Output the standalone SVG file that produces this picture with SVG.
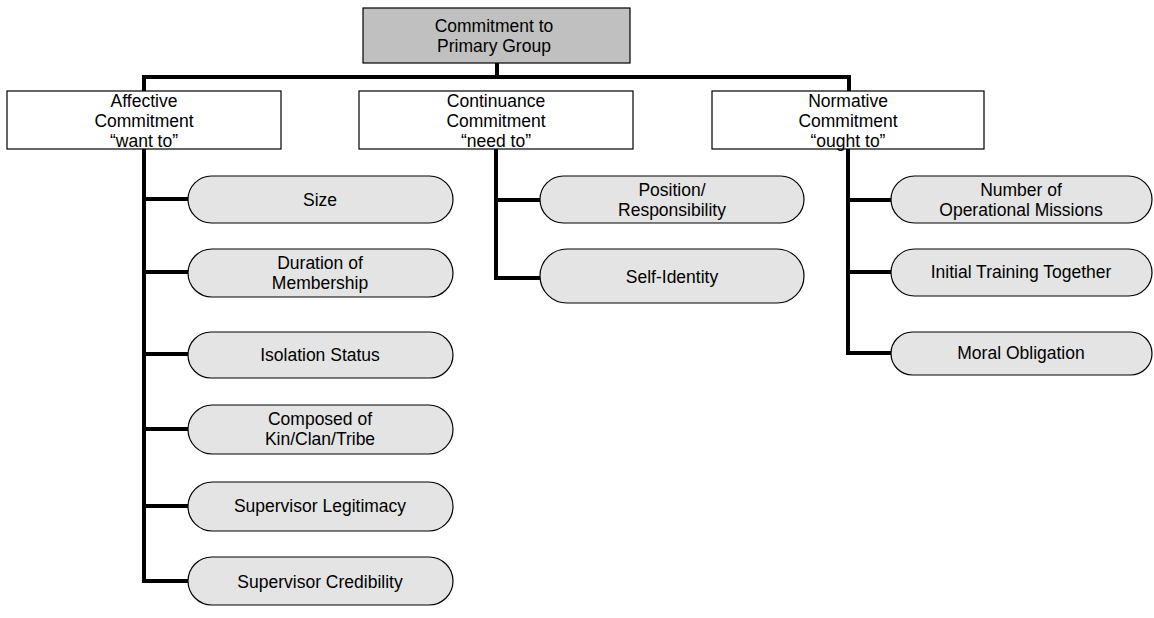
<svg xmlns="http://www.w3.org/2000/svg" width="1154" height="618" viewBox="0 0 1154 618">
<style>
.t{font-family:"Liberation Sans",Arial,sans-serif;font-size:17.5px;fill:#000;text-anchor:middle}
.box{fill:#fff;stroke:#000;stroke-width:1.2}
.top{fill:#c0c0c0;stroke:#000;stroke-width:1.2}
.pill{fill:#e4e4e4;stroke:#000;stroke-width:1.2}
.c{fill:none;stroke:#000;stroke-width:4;stroke-linejoin:miter;stroke-linecap:butt}
</style>
<rect width="1154" height="618" fill="#fff"/>
<g id="connectors">
<path class="c" d="M497 63V77M144 91V77H849V91"/>
<path class="c" d="M144 149V581H188M144 199H188M144 272H188M144 354H188M144 429H188M144 506H188"/>
<path class="c" d="M496 149V278H540M496 200H540"/>
<path class="c" d="M848 149V353H891M848 200H891M848 272H891"/>
</g>
<g id="root"><rect class="top" x="363" y="8" width="267" height="55"/><text class="t" x="494" y="32">Commitment to</text><text class="t" x="494" y="52">Primary Group</text></g>
<g id="affective"><rect class="box" x="7" y="91" width="274" height="58"/><text class="t" x="144" y="107">Affective</text><text class="t" x="144" y="127">Commitment</text><text class="t" x="144" y="147">“want to”</text></g>
<g id="continuance"><rect class="box" x="359" y="91" width="274" height="58"/><text class="t" x="496" y="107">Continuance</text><text class="t" x="496" y="127">Commitment</text><text class="t" x="496" y="147">“need to”</text></g>
<g id="normative"><rect class="box" x="712" y="91" width="272" height="58"/><text class="t" x="848" y="107">Normative</text><text class="t" x="848" y="127">Commitment</text><text class="t" x="848" y="147">“ought to”</text></g>
<g id="size"><rect class="pill" x="188" y="176" width="265" height="47" rx="23.5"/><text class="t" x="320" y="206">Size</text></g>
<g id="duration"><rect class="pill" x="188" y="249" width="265" height="48" rx="24"/><text class="t" x="320" y="269">Duration of</text><text class="t" x="320" y="289">Membership</text></g>
<g id="isolation"><rect class="pill" x="188" y="332" width="265" height="46" rx="23"/><text class="t" x="320" y="361">Isolation Status</text></g>
<g id="composed"><rect class="pill" x="188" y="405" width="265" height="49" rx="24.5"/><text class="t" x="320" y="425">Composed of</text><text class="t" x="320" y="445">Kin/Clan/Tribe</text></g>
<g id="legitimacy"><rect class="pill" x="188" y="482" width="265" height="49" rx="24.5"/><text class="t" x="320" y="512">Supervisor Legitimacy</text></g>
<g id="credibility"><rect class="pill" x="188" y="557" width="265" height="48" rx="24"/><text class="t" x="320" y="588">Supervisor Credibility</text></g>
<g id="position"><rect class="pill" x="540" y="176" width="264" height="47" rx="23.5"/><text class="t" x="672" y="196">Position/</text><text class="t" x="672" y="216">Responsibility</text></g>
<g id="selfidentity"><rect class="pill" x="540" y="249" width="264" height="54" rx="27"/><text class="t" x="672" y="283">Self-Identity</text></g>
<g id="missions"><rect class="pill" x="891" y="176" width="261" height="47" rx="23.5"/><text class="t" x="1021" y="196">Number of</text><text class="t" x="1021" y="216">Operational Missions</text></g>
<g id="training"><rect class="pill" x="891" y="249" width="261" height="47" rx="23.5"/><text class="t" x="1021" y="278">Initial Training Together</text></g>
<g id="moral"><rect class="pill" x="891" y="332" width="261" height="43" rx="21.5"/><text class="t" x="1021" y="359">Moral Obligation</text></g>
</svg>
